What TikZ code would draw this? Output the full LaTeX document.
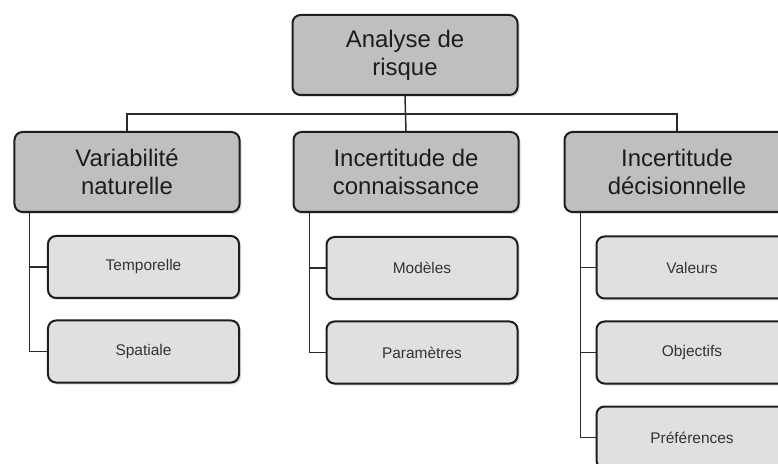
\documentclass[tikz,border=0pt]{standalone}
\usepackage{fontspec}
\setmainfont{Liberation Sans}
\usetikzlibrary{shadows}
\definecolor{boxline}{HTML}{1E1E1E}
\definecolor{mainfill}{HTML}{BFBFBF}
\definecolor{subfill}{HTML}{E0E0E0}
\definecolor{txtdark}{HTML}{1C1C1C}
\definecolor{txtsub}{HTML}{333333}
\definecolor{linkcol}{HTML}{2A2A2A}
\tikzset{
  mainbox/.style={draw=boxline, line width=2bp, fill=mainfill, rounded corners=8bp,
    minimum width=225bp, minimum height=80bp, align=center, text=txtdark,
    font=\fontsize{24}{28}\selectfont, inner sep=0pt,
    drop shadow={shadow xshift=2bp, shadow yshift=-2bp, opacity=.3, fill=black!45}},
  subbox/.style={draw=boxline, line width=2bp, fill=subfill, rounded corners=8bp,
    minimum width=191bp, minimum height=62bp, align=center, text=txtsub,
    font=\fontsize{15.5}{18}\selectfont, inner sep=0pt,
    drop shadow={shadow xshift=2bp, shadow yshift=-2bp, opacity=.3, fill=black!45}},
  link/.style={draw=linkcol, line width=1.5bp}
}
\begin{document}
\begin{tikzpicture}[x=1bp,y=-1bp]
\useasboundingbox (0,0) rectangle (778,464);
\fill[white] (0,0) rectangle (778,464);

% connectors first
\coordinate (topc) at (406,55);
\coordinate (ac) at (127,172);
\coordinate (bc) at (406,172);
\coordinate (cc) at (677,172);

\node[mainbox] (top) at (405,55) {Analyse de\\risque};
\node[mainbox] (l2a) at (127,172) {Variabilité\\naturelle};
\node[mainbox] (l2b) at (406,172) {Incertitude de\\connaissance};
\node[mainbox] (l2c) at (677,172) {Incertitude\\décisionnelle};

\node[subbox] (a1) at (143.5,267) {Temporelle};
\node[subbox] (a2) at (143.5,351.5) {Spatiale};
\node[subbox] (b1) at (422,268) {Modèles};
\node[subbox] (b2) at (422,352.5) {Paramètres};
\node[subbox] (c1) at (692,267.5) {Valeurs};
\node[subbox] (c2) at (692,352.5) {Objectifs};
\node[subbox] (c3) at (692,437.5) {Préférences};

\begin{scope}[on background layer/.try]
\end{scope}

\coordinate (va) at ([xshift=16bp]l2a.south west);
\coordinate (vb) at ([xshift=17bp]l2b.south west);
\coordinate (vc) at ([xshift=17bp]l2c.south west);
\coordinate (hub) at ([yshift=17bp]l2a.north);

\draw[link] (top.south) -- (l2b.north);
\draw[link] (l2a.north) -- (hub) -| (l2c.north);
\draw[link] (va) |- (a1.west);
\draw[link] (va) |- (a2.west);
\draw[link] (vb) |- (b1.west);
\draw[link] (vb) |- (b2.west);
\draw[link] (vc) |- (c1.west);
\draw[link] (vc) |- (c2.west);
\draw[link] (vc) |- (c3.west);
\end{tikzpicture}
\end{document}
